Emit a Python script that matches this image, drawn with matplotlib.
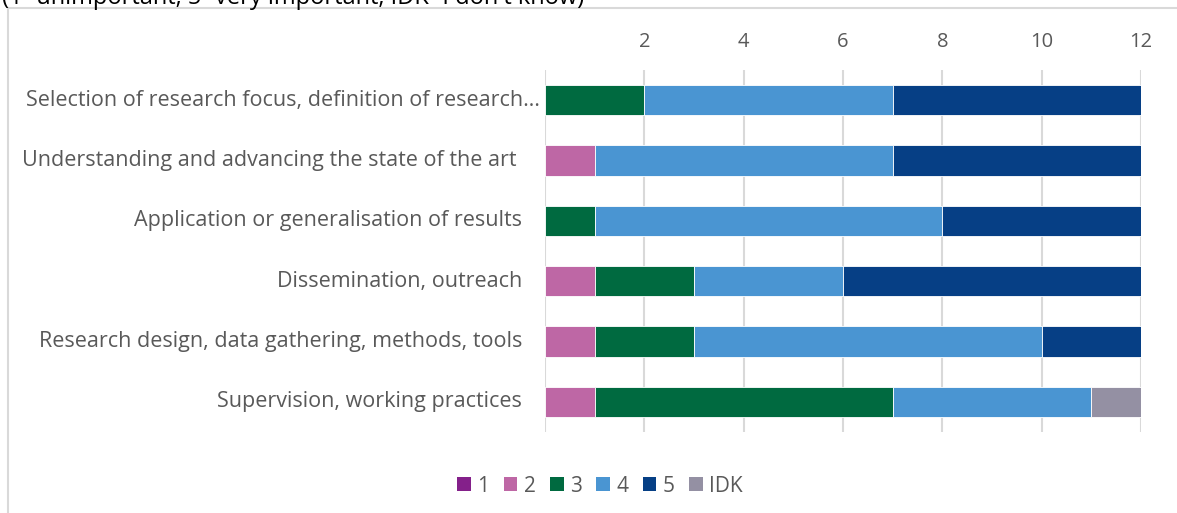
import matplotlib.pyplot as plt
from matplotlib.lines import Line2D
from matplotlib.patches import Patch
from matplotlib.transforms import offset_copy

plt.rcParams['font.family'] = ['Open Sans', 'DejaVu Sans']

categories = [
    'Selection of research focus, definition of research…',
    'Understanding and advancing the state of the art ',
    'Application or generalisation of results',
    'Dissemination, outreach',
    'Research design, data gathering, methods, tools',
    'Supervision, working practices',
]
ratings = ['1', '2', '3', '4', '5', 'IDK']
r1 = [0, 0, 0, 0, 0, 0]
r2 = [0, 1, 0, 1, 1, 1]
r3 = [2, 0, 1, 2, 2, 6]
r4 = [5, 6, 7, 3, 7, 4]
r5 = [5, 5, 4, 6, 2, 0]
idk = [0, 0, 0, 0, 0, 1]
x_ticks = [0, 2, 4, 6, 8, 10, 12]
x_tick_labels = ['', '2', '4', '6', '8', '10', '12']

colors = ['#84208A', '#BE67A5', '#006A40', '#4A95D2', '#063F85', '#9490A3']
grey_text = '#595959'

fig = plt.figure(figsize=(11.77, 5.13), dpi=100)
ax = fig.add_axes([545 / 1177, 1 - 432 / 513, 596 / 1177, 362 / 513])

y = list(range(len(categories)))
left = [0] * len(categories)
for series, color in zip([r1, r2, r3, r4, r5, idk], colors):
    ax.barh(y, series, left=left, height=0.5, color=color,
            edgecolor='white', linewidth=0.6, zorder=3)
    left = [a + b for a, b in zip(left, series)]

ax.set_xlim(0, 12)
ax.set_ylim(len(categories) - 0.5, -0.5)
ax.set_xticks(x_ticks)
ax.set_xticklabels(x_tick_labels, fontsize=14.5, color=grey_text)
ax.xaxis.tick_top()
ax.tick_params(axis='x', length=0, pad=13)
ax.set_yticks([])
ax.grid(axis='x', color='#D9D9D9', linewidth=1.5, zorder=0)
for s in ax.spines.values():
    s.set_visible(False)

# category labels, right-aligned left of the bars
for i, name in enumerate(categories):
    gap = -5 if i == 0 else -23
    tr = offset_copy(ax.get_yaxis_transform(), fig=fig, x=gap, y=0, units='dots')
    ax.text(0, i, name, transform=tr, ha='right', va='center',
            fontsize=15.5, color=grey_text)

handles = [Patch(facecolor=c, edgecolor='none') for c in colors]
fig.legend(handles, ratings, loc='center', bbox_to_anchor=(600 / 1177, 1 - 486 / 513),
           ncol=6, frameon=False, fontsize=15, labelcolor=grey_text,
           handlelength=0.65, handleheight=0.65, handletextpad=0.3,
           columnspacing=0.7)

# chart area border (top and left edges only in view)
fig.add_artist(Line2D([8 / 1177, 8 / 1177], [0, 1 - 8 / 513],
                      transform=fig.transFigure, color='#D9D9D9', lw=1.5))
fig.add_artist(Line2D([8 / 1177, 1], [1 - 8 / 513, 1 - 8 / 513],
                      transform=fig.transFigure, color='#D9D9D9', lw=1.5))

fig.text(2 / 1177, 1 - 4 / 513, "(1=unimportant, 5=very important, IDK=I don't know)",
         ha='left', va='baseline', fontsize=17, color='black')

fig.savefig('out.png', dpi=100)
